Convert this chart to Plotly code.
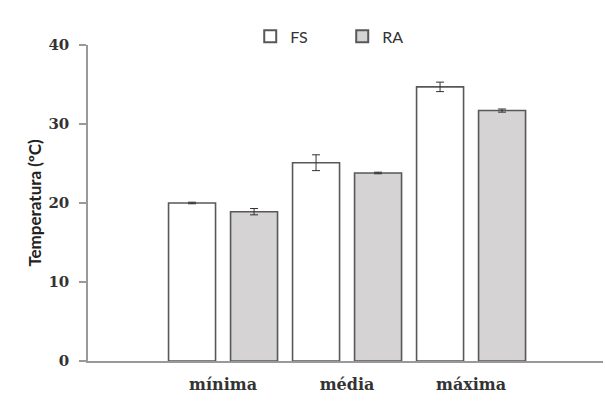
import plotly.graph_objects as go

categories = ["mínima", "média", "máxima"]
fs_values = [20.0, 25.1, 34.7]
fs_errors = [0.1, 1.0, 0.6]
ra_values = [18.9, 23.8, 31.7]
ra_errors = [0.4, 0.1, 0.2]
y_ticks = [0, 10, 20, 30, 40]

x_pos = list(range(len(categories)))

fig = go.Figure()
fig.add_trace(go.Bar(
    name="FS", x=x_pos, y=fs_values,
    marker=dict(color="white", line=dict(color="#585858", width=1.6)),
    error_y=dict(type="data", array=fs_errors, color="#333333", thickness=1, width=4),
))
fig.add_trace(go.Bar(
    name="RA", x=x_pos, y=ra_values,
    marker=dict(color="#d5d3d3", line=dict(color="#585858", width=1.6)),
    error_y=dict(type="data", array=ra_errors, color="#333333", thickness=1, width=4),
))

fig.update_layout(
    width=605, height=401,
    margin=dict(l=88, r=2, t=45, b=40, autoexpand=False),
    paper_bgcolor="white", plot_bgcolor="white",
    barmode="group", bargap=0.0, bargroupgap=0.242,
    showlegend=True,
    legend=dict(
        orientation="h", x=0.315, y=1.027, xanchor="left", yanchor="middle",
        font=dict(family="Lato", size=16, color="#333333"),
        entrywidth=47, entrywidthmode="pixels",
        itemsizing="constant", traceorder="normal",
        bgcolor="rgba(0,0,0,0)",
    ),
)

fig.update_xaxes(
    tickmode="array", tickvals=x_pos, ticktext=categories,
    range=[-1.089, 3.064], automargin=False,
    showline=True, linecolor="#999999", linewidth=1.5,
    showgrid=False, zeroline=False, ticks="",
    ticklabelstandoff=8,
    tickfont=dict(family="DejaVu Serif", size=16, color="#333333", weight="bold"),
)
fig.update_yaxes(
    range=[0, 40], tickmode="array", tickvals=y_ticks, automargin=False,
    showline=True, linecolor="#999999", linewidth=1.5,
    ticks="outside", ticklen=7, tickcolor="#999999", tickwidth=1.5,
    showgrid=False, zeroline=False,
    ticklabelstandoff=7,
    tickfont=dict(family="DejaVu Serif", size=15, color="#333333", weight="bold"),
    title=dict(text="Temperatura (ºC)", standoff=2,
               font=dict(family="Lato", size=17, color="#222222", weight="bold")),
)

fig.write_html("out.html", config={"displayModeBar": False},
               post_script="document.body.style.margin='0';")
